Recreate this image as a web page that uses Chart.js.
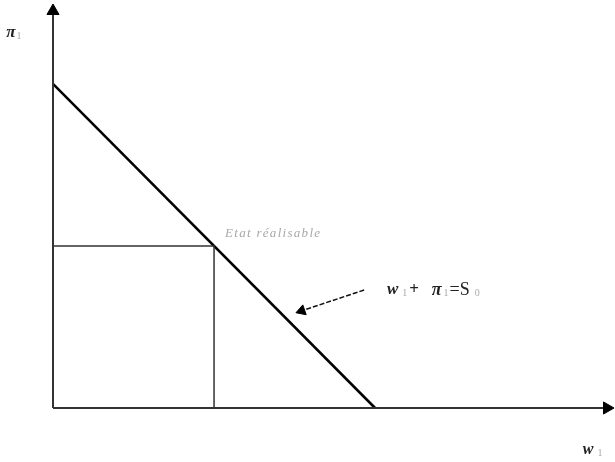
<!DOCTYPE html>
<html>
<head>
<meta charset="utf-8">
<script src="https://cdn.jsdelivr.net/npm/chart.js@4.4.1/dist/chart.umd.min.js"></script>
<style>
  html, body { margin: 0; padding: 0; background: #fff; }
  canvas { display: block; }
</style>
</head>
<body>
<canvas id="budget-chart" width="615" height="462"></canvas>
<script>
// budget line w1 + pi1 = S0 and one feasible state on it
const S0 = 10
const budgetX = [0, S0]
const budgetY = [S0, 0]
const stateX = [0, 5, 5]
const stateY = [5, 5, 0]
// annotation arrow pointing at the line
const arrowX = [9.66, 7.72]
const arrowY = [3.64, 3.0]
// axis extent (arrow ends)
const axisMaxX = 17.2
const axisMaxY = 12.25

const ink = '#222'

function pts(xs, ys) {
    return xs.map((x, i) => ({ x: x, y: ys[i] }))
}

// subscripts and italic letters drawn as small runs of text
function drawRuns(ctx, x, y, runs) {
    let cx = x
    runs.forEach(r => {
        ctx.font = r.font
        ctx.fillStyle = r.color || ink
        ctx.fillText(r.text, cx, y + (r.dy || 0))
        cx += ctx.measureText(r.text).width + (r.gap || 0)
    })
}

const labelPlugin = {
    id: 'labels',
    afterDatasetsDraw(chart) {
        const { ctx, scales } = chart
        const px = v => scales.x.getPixelForValue(v)
        const py = v => scales.y.getPixelForValue(v)
        const serif = '"Liberation Serif", "DejaVu Serif", serif'
        ctx.save()
        ctx.textBaseline = 'middle'

        // pi1 on the vertical axis
        drawRuns(ctx, px(-1.45), py(11.57), [
            { text: 'π', font: 'bold italic 17px ' + serif, gap: 1 },
            { text: '1', font: '10px ' + serif, color: '#aaa', dy: 3 }
        ])
        // w1 on the horizontal axis
        drawRuns(ctx, px(16.45), py(-1.3), [
            { text: 'w', font: 'bold italic 16px ' + serif, gap: 4 },
            { text: '1', font: '10px ' + serif, color: '#aaa', dy: 3 }
        ])
        // feasible state
        ctx.font = 'italic 13px ' + serif
        ctx.fillStyle = '#a8a8a8'
        ctx.letterSpacing = '1.3px'
        ctx.fillText('Etat réalisable', px(5.34), py(5.37))
        ctx.letterSpacing = '0px'
        // budget equation
        drawRuns(ctx, px(10.37), py(3.64), [
            { text: 'w', font: 'bold italic 17px ' + serif, gap: 4 },
            { text: '1', font: '10px ' + serif, color: '#aaa', dy: 3, gap: 2 },
            { text: '+   ', font: 'bold 17px ' + serif },
            { text: 'π', font: 'bold italic 18px ' + serif, gap: 2 },
            { text: '1', font: '10px ' + serif, color: '#aaa', dy: 3, gap: 1 },
            { text: '=S', font: '18px ' + serif, gap: 5 },
            { text: '0', font: '10px ' + serif, color: '#aaa', dy: 3 }
        ])
        ctx.restore()
    }
}

new Chart(document.getElementById('budget-chart'), {
    type: 'scatter',
    data: {
        datasets: [
            {
                // horizontal axis
                data: pts([0, axisMaxX], [0, 0]),
                showLine: true,
                borderColor: '#333',
                borderWidth: 2,
                pointStyle: 'triangle',
                pointRadius: [0, 7],
                rotation: 90,
                pointBackgroundColor: '#000',
                pointBorderColor: '#000',
                pointBorderWidth: 1,
                clip: false
            },
            {
                // vertical axis
                data: pts([0, 0], [0, axisMaxY]),
                showLine: true,
                borderColor: '#333',
                borderWidth: 2,
                pointStyle: 'triangle',
                pointRadius: [0, 7],
                rotation: 0,
                pointBackgroundColor: '#000',
                pointBorderColor: '#000',
                pointBorderWidth: 1,
                clip: false
            },
            {
                data: pts(stateX, stateY),
                showLine: true,
                borderColor: '#333',
                borderWidth: 1.5,
                pointRadius: 0,
                clip: false
            },
            {
                data: pts(budgetX, budgetY),
                showLine: true,
                borderColor: '#000',
                borderWidth: 2.5,
                pointRadius: 0,
                clip: false
            },
            {
                data: pts(arrowX, arrowY),
                showLine: true,
                borderColor: '#111',
                borderWidth: 1.5,
                borderDash: [5, 2],
                pointStyle: 'triangle',
                pointRadius: [0, 6],
                rotation: 251,
                pointBackgroundColor: '#000',
                pointBorderColor: '#000',
                pointBorderWidth: 1,
                clip: false
            }
        ]
    },
    options: {
        responsive: false,
        animation: false,
        layout: { padding: { left: 53, top: 11, right: 8, bottom: 54 } },
        plugins: {
            legend: { display: false },
            tooltip: { enabled: false }
        },
        scales: {
            x: { type: 'linear', min: 0, max: axisMaxX, display: false },
            y: { type: 'linear', min: 0, max: axisMaxY, display: false }
        }
    },
    plugins: [labelPlugin]
});
</script>
</body>
</html>
